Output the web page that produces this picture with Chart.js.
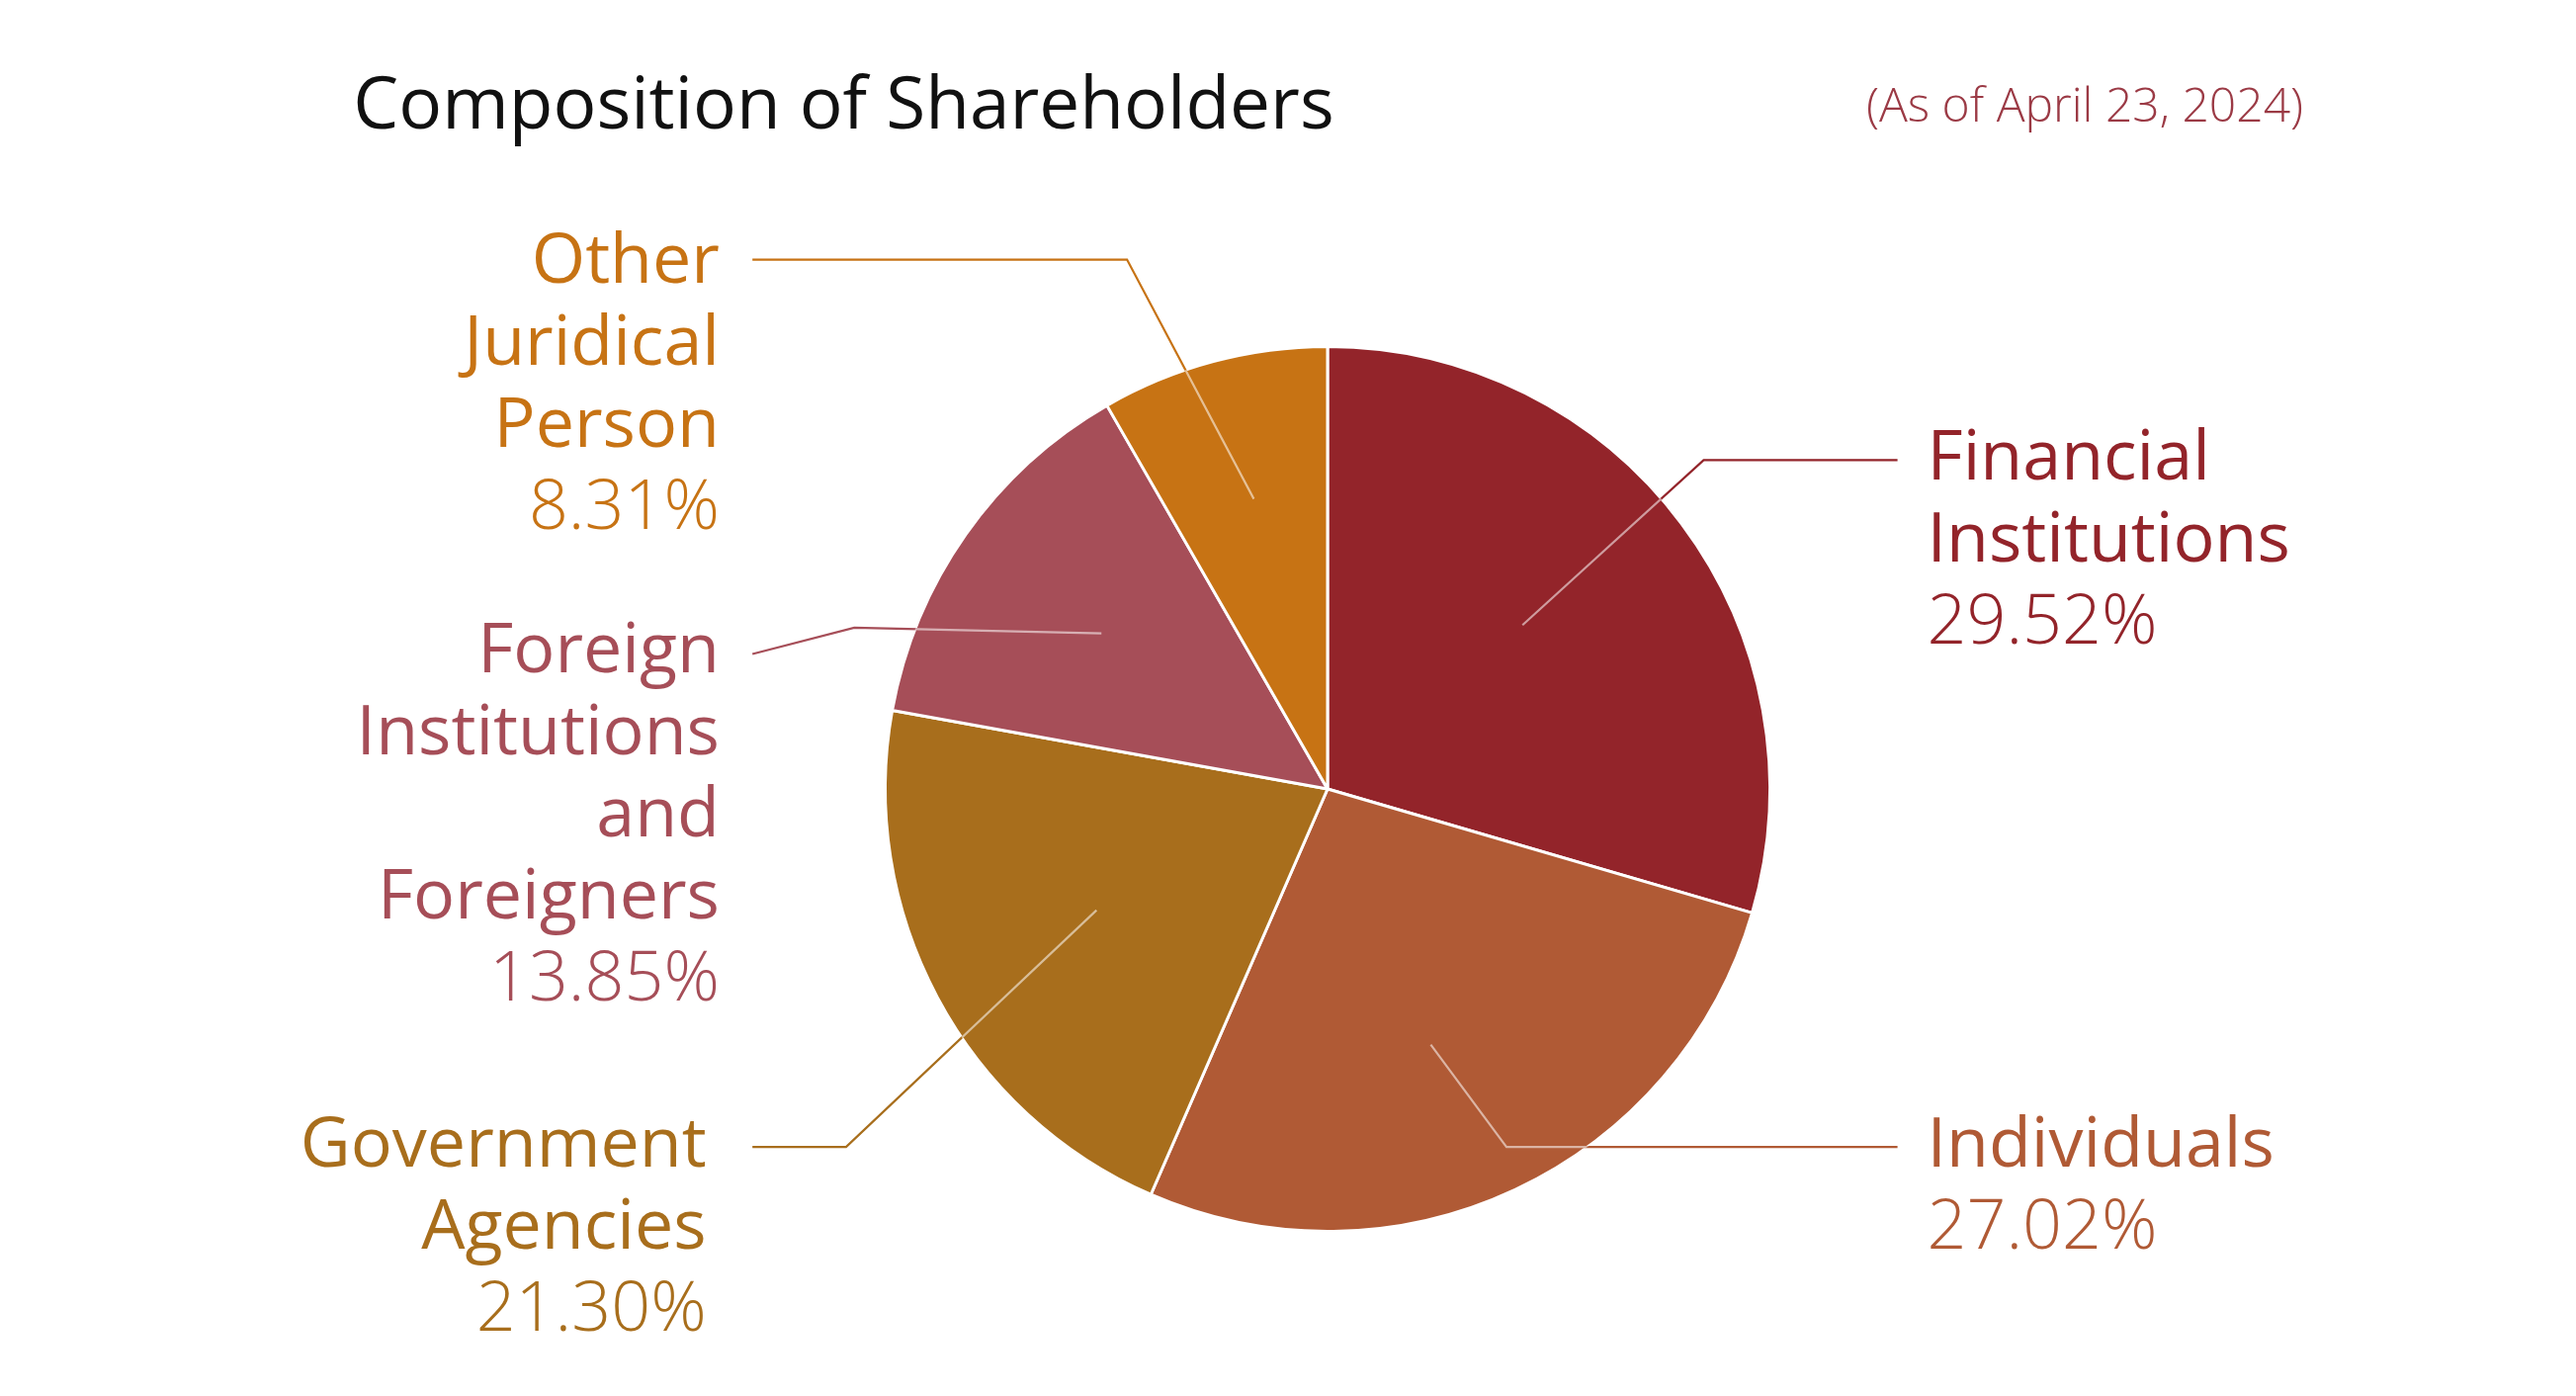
<!DOCTYPE html>
<html><head><meta charset="utf-8">
<script src="https://cdn.jsdelivr.net/npm/chart.js@4"></script>
<style>html,body{margin:0;padding:0;background:#fff}#wrap{width:2606px;height:1412px;position:relative}</style>
</head><body><div id="wrap"><canvas id="c" width="2606" height="1412"></canvas></div>
<script>
const categories = ["Financial Institutions","Individuals","Government Agencies","Foreign Institutions and Foreigners","Other Juridical Person"];
const values = [29.52, 27.02, 21.30, 13.85, 8.31];
const colors = ["#93242a","#b05a35","#a86e1c","#a64e58","#c77314"];
const labelLines = [["Financial","Institutions"],["Individuals"],["Government","Agencies"],["Foreign","Institutions","and","Foreigners"],["Other","Juridical","Person"]];

const S = 2606/1568;
// label layout (display units)
const labelPos = [
  {x:1173,y:280,align:'left'},
  {x:1173,y:698,align:'left'},
  {x:430,y:698,align:'right'},
  {x:438,y:397,align:'right'},
  {x:438,y:160,align:'right'}
];
// leader: start offset in radius units from centre, then elbow and end points
const leaders = [
  {s:[119/270,-100/270], pts:[[1037,280],[1155,280]]},
  {s:[63/270,156/270], pts:[[917,698],[1155,698]]},
  {s:[-141/270,74/270], pts:[[515,698],[458,698]]},
  {s:[-138/270,-95/270], pts:[[520,382],[458,398]]},
  {s:[-45/270,-177/270], pts:[[686,158],[458,158]]}
];

const annot = {
  id:'annot',
  afterDraw(chart){
    const ctx = chart.ctx;
    const arc = chart.getDatasetMeta(0).data[0];
    const cx = arc.x, cy = arc.y, R = arc.outerRadius;
    ctx.save();
    // title
    ctx.fillStyle = '#111';
    ctx.font = '400 '+Math.round(44*S)+'px "Open Sans"';
    ctx.textBaseline = 'middle'; ctx.textAlign='left';
    ctx.fillText('Composition of Shareholders', 215*S, 66*S);
    ctx.fillStyle = '#9b3a45';
    ctx.font = '300 '+Math.round(29*S)+'px "Open Sans"';
    ctx.textAlign='right';
    ctx.fillText('(As of April 23, 2024)', 1402*S, 66*S);
    // leaders
    leaders.forEach((l,i)=>{
      const sx = cx + l.s[0]*R, sy = cy + l.s[1]*R;
      const path = ()=>{ctx.beginPath();ctx.moveTo(sx,sy);l.pts.forEach(p=>ctx.lineTo(p[0]*S,p[1]*S));};
      ctx.lineWidth = 2.2; ctx.strokeStyle = colors[i]; path(); ctx.stroke();
      ctx.save(); ctx.beginPath(); ctx.arc(cx,cy,R,0,Math.PI*2); ctx.clip();
      ctx.strokeStyle='rgba(255,255,255,0.55)'; path(); ctx.stroke(); ctx.restore();
    });
    // labels
    const fs = Math.round(42*S), lh = 50*S;
    labelPos.forEach((p,i)=>{
      ctx.fillStyle = colors[i]; ctx.textAlign = p.align; ctx.textBaseline='middle';
      ctx.font = '500 '+fs+'px "Open Sans"';
      let y = p.y*S;
      labelLines[i].forEach(t=>{ctx.fillText(t,p.x*S,y); y+=lh;});
      ctx.font = '300 '+fs+'px "Open Sans"';
      ctx.fillText(values[i].toFixed(2)+'%', p.x*S, y);
    });
    ctx.restore();
  }
};

new Chart(document.getElementById('c'),{
  type:'pie',
  data:{labels:categories,datasets:[{data:values,backgroundColor:colors,borderColor:'#fff',borderWidth:3}]},
  options:{responsive:false,devicePixelRatio:1,animation:false,
    layout:{padding:{top:349,bottom:165,left:894,right:814}},
    plugins:{legend:{display:false},tooltip:{enabled:false}}},
  plugins:[annot]
});
</script></body></html>
